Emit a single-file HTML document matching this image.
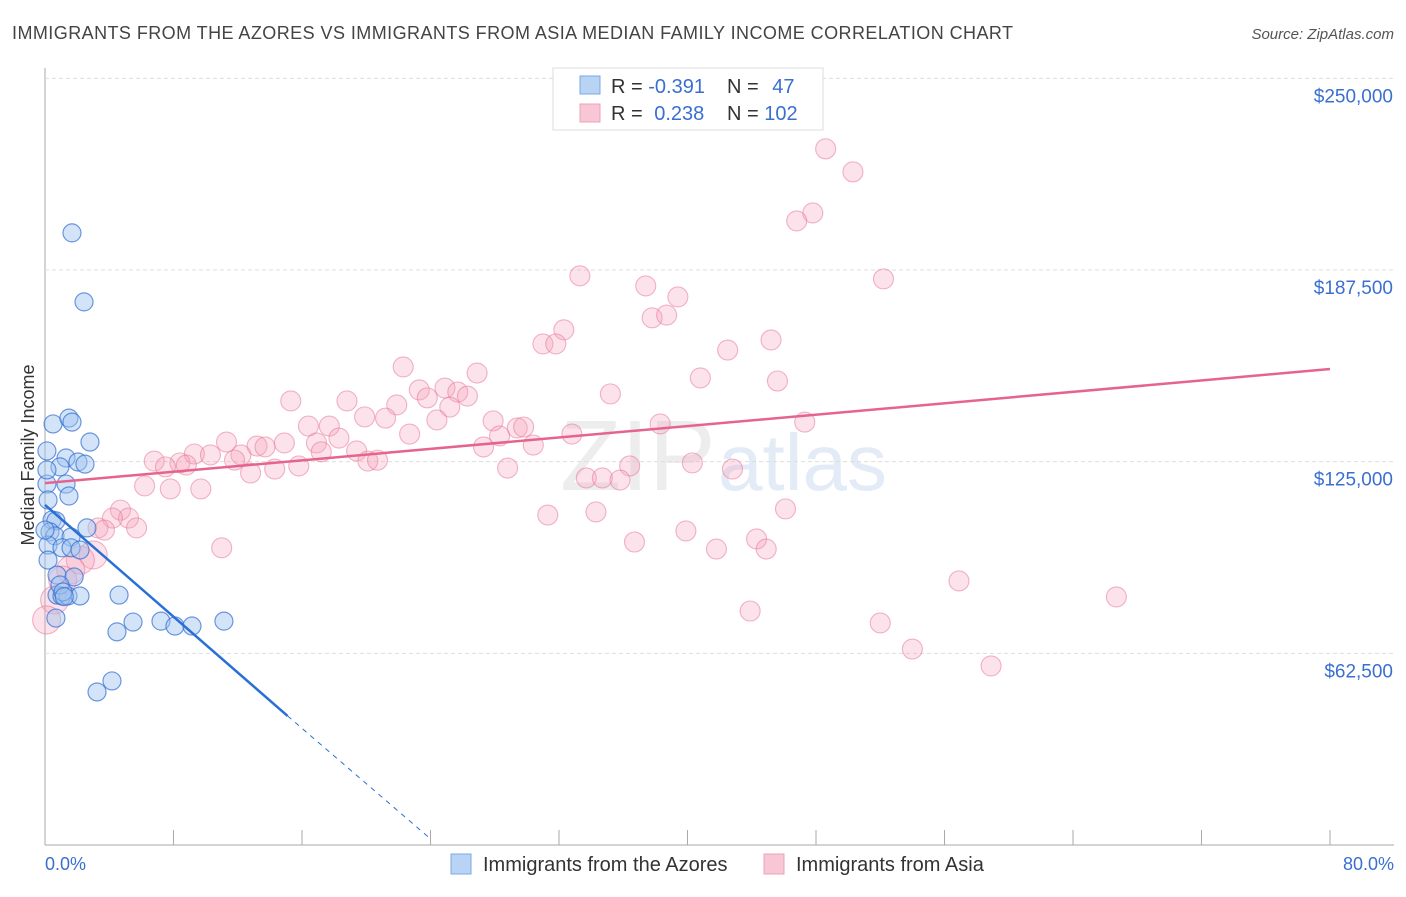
<!DOCTYPE html>
<html><head><meta charset="utf-8"><style>
body{margin:0;background:#fff;font-family:"Liberation Sans",sans-serif}
svg text{font-family:"Liberation Sans",sans-serif}
</style></head><body>
<svg width="1406" height="892" id="chart">
<text x="12" y="39" font-size="18" fill="#444" textLength="1001">IMMIGRANTS FROM THE AZORES VS IMMIGRANTS FROM ASIA MEDIAN FAMILY INCOME CORRELATION CHART</text>
<text x="1394" y="39" font-size="15" fill="#555" font-style="italic" text-anchor="end">Source: ZipAtlas.com</text>
<text x="560" y="490" font-size="100" fill="#ddd" font-family="Liberation Serif" opacity="0.5">ZIP</text>
<text x="718" y="490" font-size="80" fill="#c8d8ee" opacity="0.5">atlas</text>
<text x="34" y="455" font-size="18" fill="#333" text-anchor="middle" transform="rotate(-90 34 455)">Median Family Income</text>
<text x="45" y="870" font-size="18" fill="#3a6fd0">0.0%</text>
<text x="1394" y="870" font-size="18" fill="#3a6fd0" text-anchor="end">80.0%</text>
<g id="grid"></g><g id="pts"></g><g id="lines"></g>
<g>
<rect x="553" y="68" width="270" height="62" fill="#fff" stroke="#ddd"/>
<rect x="580" y="76" width="20" height="18" fill="#b9d3f5" stroke="#7aa7e6"/>
<rect x="580" y="104" width="20" height="18" fill="#f8c7d5" stroke="#eea0b8"/>
<text x="611" y="93" font-size="20" fill="#333">R = <tspan fill="#3a6fd0">-0.391</tspan></text>
<text x="727" y="93" font-size="20" fill="#333">N = <tspan fill="#3a6fd0" dx="8">47</tspan></text>
<text x="611" y="120" font-size="20" fill="#333">R = <tspan fill="#3a6fd0" dx="6">0.238</tspan></text>
<text x="727" y="120" font-size="20" fill="#333">N = <tspan fill="#3a6fd0">102</tspan></text>
</g>
<g>
<rect x="451" y="854" width="20" height="20" fill="#b9d3f5" stroke="#7aa7e6"/>
<text x="483" y="871" font-size="20" fill="#333">Immigrants from the Azores</text>
<rect x="764" y="854" width="20" height="20" fill="#f8c7d5" stroke="#eea0b8"/>
<text x="796" y="871" font-size="20" fill="#333">Immigrants from Asia</text>
</g>
</svg>
<script>
const yTicks=[62500,125000,187500,250000];
const yTickLabels=["$62,500","$125,000","$187,500","$250,000"];
const xTicks=[0,8,16,24,32,40,48,56,64,72,80];
const azoresX=[1.68,2.43,0.50,1.49,1.68,2.80,0.12,1.31,0.93,2.05,2.49,0.12,1.31,1.49,0.44,0.68,2.61,0.31,0.62,1.62,0.19,1.06,1.62,2.18,0.19,0.75,1.81,0.75,1.06,1.43,2.18,4.61,0.68,4.48,5.48,7.22,8.09,9.15,11.14,3.24,4.17,0.12,0.93,1.12,0.19,0,1.2];
const azoresY=[199.6,177.1,137.3,139.2,137.9,131.4,128.5,126.2,123.3,124.9,124.2,117.7,117.7,113.8,106.0,105.7,103.4,102.1,100.8,100.4,97.8,96.9,96.9,96.2,92.9,88.0,87.4,81.5,81.2,81.2,81.2,81.5,74.0,69.5,72.7,73.0,71.4,71.4,73.0,49.9,53.5,122.3,84.8,82.5,112.5,102.7,81.0];
const asiaX=[48.6,50.3,47.8,46.8,33.3,52.2,37.4,39.4,37.8,38.7,32.3,31.0,31.8,42.5,45.2,22.3,26.9,40.8,45.6,35.2,23.3,24.9,25.7,26.3,23.8,21.9,25.2,15.3,18.8,19.9,21.2,24.4,27.9,38.3,47.3,16.4,17.7,29.4,29.8,22.7,28.3,32.8,18.3,11.3,14.9,13.2,13.7,16.9,27.3,30.4,19.4,17.2,9.3,10.3,12.2,11.8,8.4,8.8,6.8,7.5,20.1,20.7,15.8,14.3,12.8,40.3,42.8,36.4,28.8,33.7,34.7,35.8,6.2,7.8,9.7,4.7,5.2,4.2,31.3,34.3,46.1,5.7,3.3,3.7,39.9,11.0,36.7,44.3,41.8,44.9,3.0,2.2,1.6,1.1,56.9,66.7,0.6,43.9,52.0,0.1,54.0,58.9];
const asiaY=[227.0,219.5,206.1,203.5,185.6,184.6,182.3,178.7,171.9,172.8,168.0,163.4,163.4,161.4,164.7,155.9,153.9,152.3,151.3,147.1,148.4,149.0,147.7,146.4,145.8,143.5,142.8,144.8,144.8,139.6,139.2,138.6,138.3,137.3,137.9,136.6,136.6,136.0,136.3,134.0,133.4,134.0,132.7,131.4,131.1,130.1,129.8,131.1,129.8,130.4,128.5,128.2,127.5,127.2,127.2,125.5,124.6,123.9,125.2,123.3,125.2,125.5,123.6,122.6,121.3,124.6,122.6,123.6,122.9,119.7,119.7,119.0,117.1,116.1,116.1,109.2,106.6,106.6,107.6,108.6,109.6,103.4,103.4,102.7,102.4,96.9,98.8,99.8,96.5,96.5,94.6,92.9,89.7,86.4,86.1,80.9,79.9,76.3,72.4,73.4,63.9,58.4];
const azoresTrend=[[0,110.9],[15.1,42.1],[24.0,2.0]];
const asiaTrend=[[0,118.0],[80,155.2]];
const NS="http://www.w3.org/2000/svg";
const xs=v=>45+v/80*1285;
const ys=v=>845-v*1000/62500*191.67;
function mk(t,a,p){const e=document.createElementNS(NS,t);for(const k in a)e.setAttribute(k,a[k]);p.appendChild(e);return e;}
const grid=document.getElementById('grid');
const ax=mk('line',{x1:45,y1:68,x2:45,y2:845,stroke:'#aaa'},grid);


const bx=mk('line',{x1:45,y1:845,x2:1394,y2:845,stroke:'#aaa'},grid);


yTicks.forEach((t,i)=>{
 const y=ys(t/1000);
 const g=mk('line',{x1:45,y1:y,x2:1394,y2:y,stroke:'#ddd','stroke-dasharray':'4,3'},grid);
 
 
 const l=mk('text',{x:1393,y:y+24,'font-size':19,fill:'#3a6fd0','text-anchor':'end'},grid);
 l.textContent=yTickLabels[i];
 
 
});
xTicks.forEach(t=>{
 const x=xs(t);
 const k=mk('line',{x1:x,y1:830,x2:x,y2:845,stroke:'#aaa'},grid);
 
 
});
const pts=document.getElementById('pts');
asiaX.forEach((v,i)=>{
 const r=(v<4&&asiaY[i]<96)?14:10;
 const c=mk('circle',{cx:xs(v),cy:ys(asiaY[i]),r:r,fill:'rgba(244,160,185,0.3)',stroke:'rgba(232,120,155,0.55)','stroke-width':1.1},pts);
 
 
});
azoresX.forEach((v,i)=>{
 const c=mk('circle',{cx:xs(v),cy:ys(azoresY[i]),r:9,fill:'rgba(160,195,240,0.45)',stroke:'rgba(50,110,210,0.7)','stroke-width':1.2},pts);
 
 
});
const lines=document.getElementById('lines');
const a1=mk('line',{x1:xs(azoresTrend[0][0]),y1:ys(azoresTrend[0][1]),x2:xs(azoresTrend[1][0]),y2:ys(azoresTrend[1][1]),stroke:'#2a6fd6','stroke-width':2.5},lines);


const a2=mk('line',{x1:xs(azoresTrend[1][0]),y1:ys(azoresTrend[1][1]),x2:xs(azoresTrend[2][0]),y2:ys(azoresTrend[2][1]),stroke:'#2a6fd6','stroke-width':1,'stroke-dasharray':'5,5'},lines);


const p1=mk('line',{x1:xs(asiaTrend[0][0]),y1:ys(asiaTrend[0][1]),x2:xs(asiaTrend[1][0]),y2:ys(asiaTrend[1][1]),stroke:'#e5648d','stroke-width':2.5},lines);


</script>
</body></html>
